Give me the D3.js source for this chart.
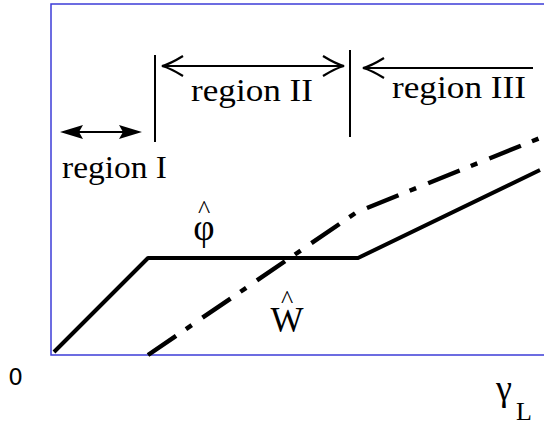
<!DOCTYPE html>
<html>
<head>
<meta charset="utf-8">
<script src="https://cdn.jsdelivr.net/npm/d3@7"></script>
<style>
  body { margin: 0; background: #fff; }
  svg { display: block; }
</style>
</head>
<body>
<div id="chart"></div>
<script>
// curves, in arbitrary units along gamma_L (x) and value (y)
const phiX = [0.03, 0.97, 3.07, 4.89];
const phiY = [0.03, 0.97, 0.97, 1.85];
const wX = [0.97, 3.06, 4.89];
const wY = [0.0, 1.43, 2.17];

// region boundaries (vertical markers) and names
const regionBounds = [1.04, 2.99];
const regionNames = ["region I", "region II", "region III"];
const originLabel = "0";

const width = 544, height = 428;

const svg = d3.select("#chart").append("svg")
    .attr("width", width)
    .attr("height", height);

const x = d3.scaleLinear().domain([0, 5]).range([51, 551]);
const y = d3.scaleLinear().domain([0, 3.51]).range([355, 4]);

// frame (right side runs off the page)
svg.append("path")
    .attr("d", `M${x(5.2)},${y(3.51)}H${x(0)}V${y(0)}H${x(5.2)}`)
    .attr("fill", "none")
    .attr("stroke", "#3c3cd8")
    .attr("stroke-width", 1.5);

const line = d3.line().x(d => x(d[0])).y(d => y(d[1]));

// phi hat - solid
svg.append("path")
    .attr("d", line(phiX.map((v, i) => [v, phiY[i]])))
    .attr("fill", "none")
    .attr("stroke", "#000")
    .attr("stroke-width", 4)
    .attr("stroke-linejoin", "round");

// W hat - dash dot
svg.append("path")
    .attr("d", line(wX.map((v, i) => [v, wY[i]])))
    .attr("fill", "none")
    .attr("stroke", "#000")
    .attr("stroke-width", 4.5)
    .attr("stroke-dasharray", "34,12,7,13");

// region markers
regionBounds.forEach((b, i) => {
    const top = i == 0 ? 3.0 : 3.05;
    const bot = i == 0 ? 2.13 : 2.18;
    svg.append("line")
        .attr("x1", x(b)).attr("x2", x(b))
        .attr("y1", y(top)).attr("y2", y(bot))
        .attr("stroke", "#000").attr("stroke-width", 2);
});

// arrow helpers
function filledHead(px, py, dir) {
    // dir = 1 points right, -1 points left
    const s = dir;
    svg.append("path")
        .attr("d", `M${px},${py}L${px - s * 23},${py - 7}L${px - s * 19},${py}L${px - s * 23},${py + 7}Z`)
        .attr("fill", "#000");
}
function openHead(px, py, dir) {
    const s = dir;
    svg.append("path")
        .attr("d", `M${px - s * 21},${py - 10}Q${px - s * 8},${py - 2} ${px},${py}Q${px - s * 8},${py + 2} ${px - s * 21},${py + 10}`)
        .attr("fill", "none")
        .attr("stroke", "#000")
        .attr("stroke-width", 2.2);
}
function shaft(x1, x2, py) {
    svg.append("line")
        .attr("x1", x1).attr("x2", x2)
        .attr("y1", py).attr("y2", py)
        .attr("stroke", "#000").attr("stroke-width", 2);
}

// region I
let ay = y(2.23);
shaft(x(0.12), x(0.88), ay);
filledHead(x(0.09), ay, -1);
filledHead(x(0.91), ay, 1);

// region II
ay = y(2.89);
shaft(x(1.12), x(2.92), ay);
openHead(x(1.11), ay, -1);
openHead(x(2.93), ay, 1);

// region III
ay = y(2.87);
shaft(x(3.13), x(4.82), ay);
openHead(x(3.12), ay, -1);

const serif = "'Liberation Serif', 'Times New Roman', serif";

// region names: [left, baseline, ink width]
const namePos = [[62, 178, 105], [191, 101, 122], [392, 98, 134]];
regionNames.forEach((n, i) => {
    const p = namePos[i];
    svg.append("text")
        .attr("x", p[0]).attr("y", p[1])
        .attr("font-family", serif).attr("font-size", 31)
        .attr("textLength", p[2])
        .attr("lengthAdjust", "spacingAndGlyphs")
        .text(n);
});

// curve labels with hats (one text element each)
function hatLabel(cx, hatBase, base, glyph, size) {
    const t = svg.append("text")
        .attr("font-family", serif)
        .attr("text-anchor", "middle");
    t.append("tspan")
        .attr("x", cx).attr("y", hatBase)
        .attr("font-size", 26)
        .text("^");
    t.append("tspan")
        .attr("x", cx).attr("y", base)
        .attr("font-size", size)
        .text(glyph);
}
hatLabel(204, 218, 240, "\u03c6", 37);
hatLabel(287, 308, 332, "W", 35);

// axis labels
svg.append("text")
    .attr("x", 15.5).attr("y", 385)
    .attr("text-anchor", "middle")
    .attr("font-family", "'DejaVu Sans', sans-serif")
    .attr("font-size", 23)
    .text(originLabel);

const g = svg.append("text")
    .attr("x", 496).attr("y", 400)
    .attr("font-family", serif).attr("font-size", 36);
g.append("tspan").text("\u03b3");
g.append("tspan").attr("x", 516).attr("y", 420).attr("font-size", 26).text("L");
</script>
</body>
</html>
